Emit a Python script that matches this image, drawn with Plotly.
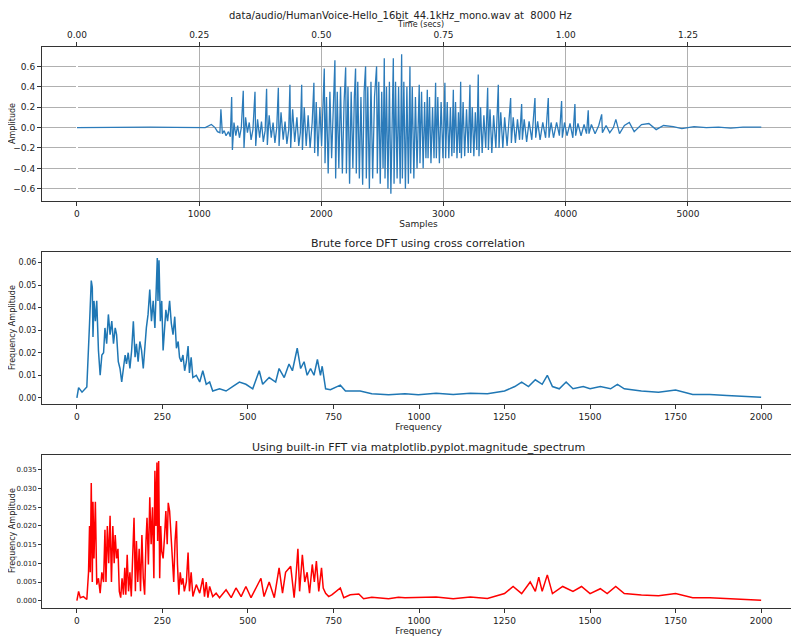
import plotly.graph_objects as go

# ---- waveform (samples, amplitude) ----
wave_x = [0,200,400,600,800,1000,1050,1100,1130,1150,
1170,1178,1190,1205,1220,1240,1255,
1266,1272,1285,1300,1315,1330,1345,
1361,1367,1380,1395,1410,1425,1440,
1457,1463,1478,1495,1510,1525,1540,
1552,1558,1573,1590,1605,1620,1635,
1648,1654,1670,1688,1703,1718,1733,
1743,1749,1765,1782,1800,1815,1828,
1839,1845,1860,1876,1892,1908,1925,
1939,1945,1958,1972,1988,2002,2012,
2024,2030,2042,2056,2070,2084,2098,
2111,2117,2130,2143,2157,2172,2186,
2199,2205,2218,2231,2244,2258,2270,
2280,2286,2298,2311,2324,2338,2350,
2362,2368,2380,2393,2406,2420,2435,
2452,2458,2470,2482,2494,2505,
2515,2521,2533,2545,2557,2569,2580,
2589,2595,2607,2620,2632,2645,
2657,2663,2675,2688,2700,2712,
2725,2731,2744,2757,2770,2783,
2801,2807,2820,2833,2845,2856,
2867,2873,2885,2897,2910,2922,
2935,2941,2953,2966,2980,2995,
3011,3017,3030,3043,3056,3068,
3080,3086,3098,3110,3122,3132,
3140,3146,3160,3173,3188,3202,
3216,3222,3235,3248,3260,3272,
3284,3290,3303,3316,3330,3345,
3361,3367,3380,3395,3410,3428,
3448,3454,3468,3485,3500,3520,3535,
3549,3555,3570,3588,3605,3622,
3639,3645,3660,3680,3700,3722,
3748,3754,3770,3790,3812,3835,
3857,3863,3880,3900,3925,3948,
3966,3972,3990,4010,4035,4058,
4075,4081,4100,4125,4150,4170,
4184,4190,4210,4240,4270,
4294,4300,4330,4360,4390,
4410,4440,4480,4520,4560,4620,4680,4740,4800,4880,4950,5050,5150,5250,5350,5450,5600]
wave_y = [0,0.003,0.005,0.004,0.002,0.005,0.0,0.03,0.0,-0.04,
-0.05,0.18,-0.06,-0.03,-0.08,-0.04,-0.09,
0.30,-0.22,0.05,-0.08,0.02,-0.10,0.0,
0.36,-0.20,0.10,-0.05,0.05,-0.12,-0.02,
0.35,-0.18,0.08,-0.10,0.06,-0.14,-0.03,
0.38,-0.17,0.12,-0.10,0.05,-0.15,0.0,
0.39,-0.18,0.15,-0.12,0.06,-0.16,-0.02,
0.42,-0.20,0.18,-0.14,0.10,-0.18,-0.05,
0.42,-0.22,0.20,-0.18,0.12,-0.20,0.05,
0.44,-0.25,0.25,-0.28,0.20,-0.18,0.10,
0.58,-0.35,0.30,-0.45,0.35,-0.30,0.20,
0.66,-0.50,0.35,-0.40,0.40,-0.45,0.25,
0.59,-0.45,0.40,-0.55,0.35,-0.40,0.30,
0.58,-0.45,0.45,-0.50,0.30,-0.56,0.35,
0.60,-0.50,0.40,-0.60,0.45,-0.50,0.30,
0.60,-0.45,0.45,-0.55,0.35,-0.40,
0.68,-0.50,0.40,-0.60,0.45,-0.65,0.40,
0.68,-0.55,0.45,-0.50,0.40,-0.55,
0.72,-0.50,0.45,-0.60,0.40,-0.55,
0.60,-0.45,0.40,-0.50,0.30,-0.40,
0.42,-0.35,0.35,-0.40,0.25,-0.30,
0.37,-0.30,0.30,-0.35,0.20,-0.30,
0.44,-0.30,0.30,-0.35,0.25,-0.30,
0.44,-0.30,0.25,-0.30,0.20,-0.28,
0.37,-0.25,0.25,-0.30,0.15,-0.25,
0.45,-0.30,0.25,-0.28,0.18,-0.25,
0.42,-0.25,0.20,-0.28,0.15,-0.22,
0.52,-0.28,0.20,-0.25,0.12,-0.20,
0.39,-0.22,0.18,-0.25,0.12,-0.20,
0.42,-0.20,0.15,-0.20,0.10,-0.18,0.05,
0.29,-0.15,0.10,-0.15,0.08,-0.12,
0.23,-0.12,0.08,-0.14,0.06,-0.12,
0.29,-0.10,0.06,-0.12,0.05,-0.10,
0.29,-0.10,0.05,-0.10,0.05,-0.08,
0.26,-0.10,0.05,-0.08,0.04,-0.10,
0.23,-0.08,0.04,-0.08,0.03,-0.06,
0.17,-0.06,0.03,-0.06,0.02,
0.13,-0.05,0.02,-0.05,0.0,
0.08,-0.06,0.02,0.05,-0.04,0.03,0.04,-0.02,0.02,0.01,-0.01,0.01,0.0,0.005,-0.005,0.005,0.005]

# ---- brute force DFT spectrum ----
dft_f = [0,5,15,29,37,39,42,45,47,50,54,58,63,68,73,78,82,87,92,97,102,107,112,116,121,126,131,136,141,145,
150,155,160,165,170,174,179,184,189,194,199,203,208,213,218,223,228,233,235,237,240,244,248,252,256,260,265,271,276,281,
286,291,296,300,305,310,315,320,325,329,334,339,349,359,368,378,388,397,417,436,455,475,494,514,533,543,562,581,591,606,
620,630,644,654,664,673,683,693,703,712,717,727,741,770,785,799,828,862,911,959,998,
1050,1100,1150,1200,1250,1280,1300,1320,1340,1360,1375,1390,1410,1430,1450,1480,1500,1530,1560,1580,1600,1650,1700,1750,1800,1850,1900,1950,2000]
dft_a = [0.0,0.0045,0.0025,0.0048,0.033,0.042,0.052,0.049,0.027,0.043,0.034,0.043,0.021,0.010,0.019,0.020,0.031,0.024,0.037,0.028,0.034,0.024,0.031,0.028,0.016,0.013,0.007,0.013,0.019,0.015,
0.020,0.013,0.021,0.034,0.018,0.024,0.016,0.025,0.021,0.013,0.024,0.031,0.037,0.048,0.034,0.043,0.031,0.057,0.062,0.043,0.061,0.034,0.043,0.021,0.031,0.039,0.034,0.043,0.033,0.028,
0.036,0.022,0.025,0.018,0.016,0.019,0.012,0.016,0.023,0.011,0.018,0.009,0.010,0.007,0.012,0.006,0.007,0.003,0.004,0.003,0.005,0.007,0.006,0.004,0.012,0.006,0.009,0.007,0.013,0.009,
0.015,0.012,0.022,0.013,0.016,0.010,0.013,0.010,0.017,0.010,0.014,0.004,0.0036,0.0056,0.003,0.003,0.003,0.0018,0.0014,0.0018,0.0014,
0.002,0.0015,0.002,0.0018,0.003,0.005,0.007,0.005,0.008,0.006,0.010,0.005,0.004,0.007,0.004,0.005,0.004,0.005,0.004,0.006,0.004,0.003,0.0025,0.0035,0.0015,0.0015,0.001,0.0005,0.0003]

# ---- built-in FFT magnitude spectrum ----
fft_f = [0,5,10,19,29,34,37,39,42,45,47,50,54,58,63,68,73,78,82,85,89,93,97,101,105,109,112,116,120,124,
128,132,136,140,143,147,151,155,159,163,167,171,174,178,182,186,190,194,198,202,205,209,213,217,221,225,228,231,234,236,
239,242,245,248,252,256,260,264,267,271,275,279,283,287,291,294,298,302,306,310,314,320,325,329,334,339,349,359,368,373,
378,383,388,397,407,417,436,451,465,480,494,509,523,538,547,562,577,591,601,610,625,635,640,646,651,659,666,673,680,688,
694,700,707,715,720,727,736,746,770,780,799,824,838,862,911,940,959,998,
1050,1100,1150,1200,1250,1275,1300,1325,1340,1350,1360,1375,1390,1420,1450,1475,1500,1530,1550,1575,1600,1650,1700,1750,1800,1850,1900,1950,2000]
fft_a = [0,0.0025,0.0008,0.0011,0.0003,0.0076,0.020,0.0076,0.0315,0.005,0.0265,0.0113,0.0265,0.0043,0.006,0.002,0.0076,0.005,0.019,0.005,0.020,0.010,0.0227,0.005,0.020,0.010,0.0176,0.0113,0.0139,0.0025,
0.0008,0.006,0.0016,0.0088,0.0016,0.0123,0.0025,0.0076,0.0011,0.0151,0.0222,0.0025,0.016,0.005,0.0139,0.0025,0.0176,0.006,0.0016,0.016,0.0222,0.0097,0.0277,0.0151,0.025,0.006,0.0348,0.020,0.037,0.016,
0.0374,0.006,0.020,0.0132,0.0113,0.0169,0.024,0.0151,0.0262,0.024,0.0169,0.0113,0.005,0.016,0.0213,0.0097,0.0016,0.0076,0.0043,0.006,0.0025,0.005,0.0129,0.0025,0.0076,0.0011,0.0043,0.002,0.006,0.0011,
0.005,0.0008,0.0038,0.0011,0.002,0.0008,0.0029,0.0008,0.0034,0.0011,0.0038,0.0008,0.0034,0.006,0.0011,0.005,0.0008,0.0088,0.002,0.0076,0.0092,0.0008,0.006,0.0139,0.0025,0.0123,0.005,0.0076,0.002,0.0097,
0.005,0.0106,0.0025,0.0088,0.0034,0.002,0.0011,0.0016,0.0034,0.0008,0.0016,0.0018,0.0005,0.0009,0.0005,0.0009,0.0008,0.0008,
0.001,0.0005,0.001,0.0006,0.0019,0.0038,0.0019,0.005,0.0025,0.0063,0.0025,0.0069,0.0019,0.0038,0.0025,0.0038,0.0019,0.0032,0.0019,0.0038,0.0019,0.0015,0.0013,0.0019,0.0008,0.0008,0.0005,0.0004,0.0001]

time_ticks = [0.0, 0.25, 0.5, 0.75, 1.0, 1.25]
SR = 4000  # samples per second for the twin time axis

OFF = 8  # page body margin
W, H = 799 - OFF, 637 - OFF
PL, PR, PT, PB = 42, 795, 47, 608   # plot-area edges in page pixels
L, R, T, B = PL - OFF, W - (PR - OFF), PT - OFF, H - (PB - OFF)
PH, PW = PB - PT, PR - PL
def py(y): return (PB - y) / PH
def px(x): return (x - PL) / PW

fig = go.Figure()
fig.add_trace(go.Scatter(x=wave_x, y=wave_y, mode="lines", line=dict(color="#2b7bba", width=1.3),
                         xaxis="x", yaxis="y", showlegend=False))
fig.add_trace(go.Scatter(x=dft_f, y=dft_a, mode="lines", line=dict(color="#1f77b4", width=1.5),
                         xaxis="x3", yaxis="y3", showlegend=False))
fig.add_trace(go.Scatter(x=fft_f, y=fft_a, mode="lines", line=dict(color="red", width=1.5),
                         xaxis="x4", yaxis="y4", showlegend=False))
fig.add_trace(go.Scatter(x=[0], y=[None], xaxis="x2", yaxis="y", showlegend=False, hoverinfo="skip"))

font = dict(family="DejaVu Sans", size=9, color="#222")
sfont = dict(family="DejaVu Sans", size=8, color="#222")
xsfont = dict(family="DejaVu Sans", size=7, color="#222")
tfont = dict(family="DejaVu Sans", size=9, color="#222")
ax_common = dict(showline=True, linecolor="#333", linewidth=1, mirror=True, ticks="outside",
                 tickcolor="#333", zeroline=False, automargin=False)

fig.update_layout(
    width=W, height=H, margin=dict(l=L, r=R, t=T, b=B),
    paper_bgcolor="white", plot_bgcolor="white", font=font,
    xaxis=dict(domain=[0, 1], anchor="y", range=[-286, 5876], tickvals=[0,1000,2000,3000,4000,5000], tickfont=font,
               ticklen=4, showgrid=True, gridcolor="#b0b0b0", title=dict(text="Samples", standoff=2, font=tfont), **ax_common),
    yaxis=dict(domain=[py(201), 1], anchor="x", range=[-0.72, 0.79], tickvals=[-0.6,-0.4,-0.2,0,0.2,0.4,0.6],
               ticklen=4, tickformat=".1f", showgrid=True, gridcolor="#b0b0b0", tickfont=font, **ax_common),
    xaxis2=dict(overlaying="x", side="top", anchor="y", range=[-286/SR, 5876/SR], tickvals=time_ticks,
                tickformat=".2f", showgrid=False, ticks="outside", ticklen=4, tickcolor="#333", tickfont=font,
                automargin=False),
    xaxis3=dict(domain=[0, 1], anchor="y3", range=[-102, 2099], tickvals=[0,250,500,750,1000,1250,1500,1750,2000],
                ticklen=4, tickfont=font, showgrid=False, title=dict(text="Frequency", standoff=2, font=tfont), **ax_common),
    yaxis3=dict(domain=[py(404), py(252)], anchor="x3", range=[-0.00275, 0.0647], tickvals=[0,0.01,0.02,0.03,0.04,0.05,0.06],
                ticklen=3, tickformat=".2f", showgrid=False, tickfont=sfont, **ax_common),
    xaxis4=dict(domain=[0, 1], anchor="y4", range=[-102, 2099], tickvals=[0,250,500,750,1000,1250,1500,1750,2000],
                ticklen=4, tickfont=font, showgrid=False, title=dict(text="Frequency", standoff=2, font=tfont), **ax_common),
    yaxis4=dict(domain=[0, py(455)], anchor="x4", range=[-0.00196, 0.039],
                tickvals=[0,0.005,0.01,0.015,0.02,0.025,0.03,0.035],
                ticklen=3, tickformat=".3f", showgrid=False, tickfont=xsfont, **ax_common),
)

hfont = dict(family="DejaVu Sans", size=11, color="#222")
def ann(text, x, y, f=hfont, angle=0):
    fig.add_annotation(text=text, x=px(x), y=py(y), xref="paper", yref="paper", showarrow=False,
                       font=f, textangle=angle, xanchor="center", yanchor="middle")

fig.add_annotation(text="data/audio/HumanVoice-Hello_16bit_44.1kHz_mono.wav at  8000 Hz", x=px(400), y=py(OFF),
                   xref="paper", yref="paper", showarrow=False, font=dict(family="DejaVu Sans", size=10, color="#222"),
                   yanchor="top")
ann("Time (secs)", 420, 25, sfont)
ann("Brute force DFT using cross correlation", 418, 243)
ann("Using built-in FFT via matplotlib.pyplot.magnitude_spectrum", 418, 447)
ann("Amplitude", 13, 124, sfont, -90)
ann("Frequency Amplitude", 12, 328, sfont, -90)
ann("Frequency Amplitude", 12, 531, sfont, -90)

fig.write_html("out.html")
